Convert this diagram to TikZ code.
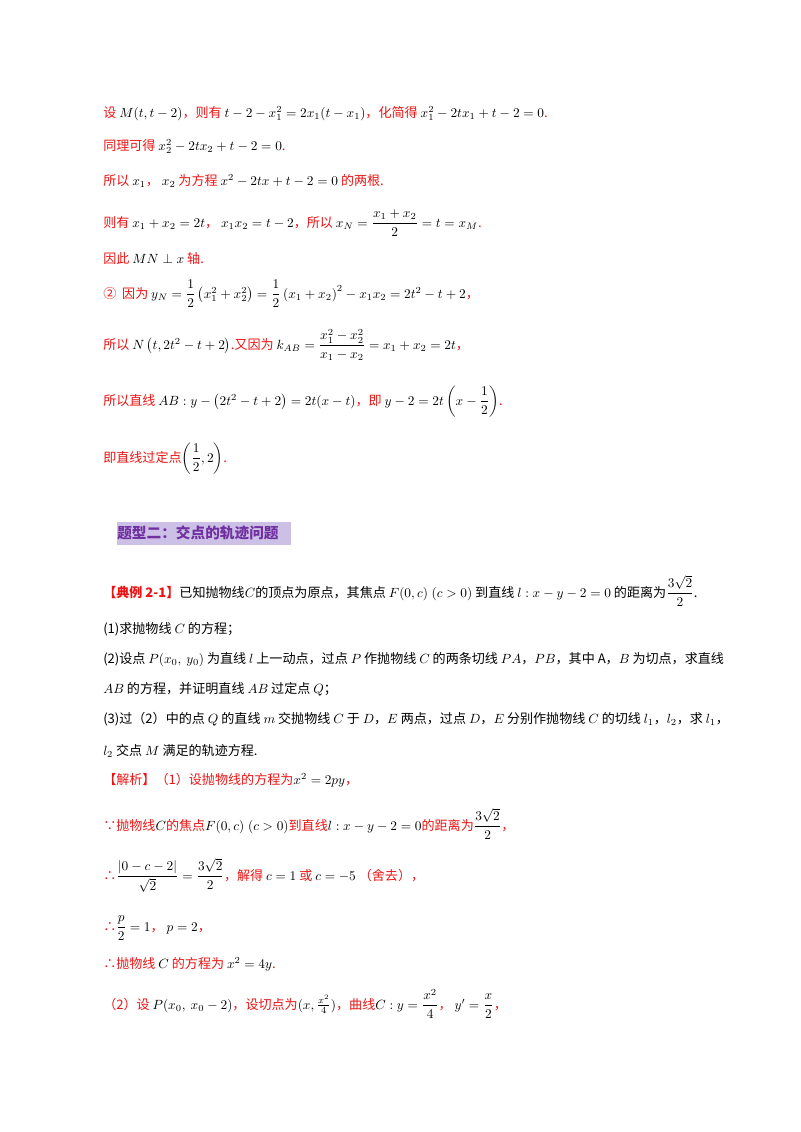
\documentclass[tikz,border=0pt]{standalone}
\usepackage{fontspec}
\usepackage{amsmath,amssymb}
\newfontfamily\cjk{Noto Sans CJK SC}
\definecolor{rd}{RGB}{235,20,20}
\definecolor{pu}{RGB}{112,48,160}
\definecolor{lav}{RGB}{204,192,230}
\newcommand{\R}[1]{\textcolor{rd}{#1}}
\tikzset{ln/.style={anchor=base west,inner sep=0pt,font=\cjk\fontsize{9.8}{11}\selectfont}}
\begin{document}
\begin{tikzpicture}[x=0.75pt,y=-0.75pt]
\useasboundingbox (0,0) rectangle (800,1132);
\node[ln] (l1) at (103,117) {\R{设} $M(t,t-2)$\R{，则有} $t-2-x_1^2=2x_1(t-x_1)$\R{，化简得} $x_1^2-2tx_1+t-2=0$\R{.}};
\node[ln] (l2) at (103,150) {\R{同理可得} $x_2^2-2tx_2+t-2=0$\R{.}};
\node[ln] (l3) at (103,185) {\R{所以} $x_1$\R{，} $x_2$ \R{为方程} $x^2-2tx+t-2=0$ \R{的两根.}};
\node[ln] (l4) at (103,227) {\R{则有} $x_1+x_2=2t$\R{，} $x_1x_2=t-2$\R{，所以} $x_N=\dfrac{x_1+x_2}{2}=t=x_M$\R{.}};
\node[ln] (l5) at (103,263) {\R{因此} $MN\perp x$ \R{轴.}};
\node[ln] (l6) at (103,298) {\R{②\ \ 因为} $y_N=\dfrac12\left(x_1^2+x_2^2\right)=\dfrac12\left(x_1+x_2\right)^2-x_1x_2=2t^2-t+2$\R{，}};
\node[ln] (l7) at (103,349) {\R{所以} $N\left(t,2t^2-t+2\right)$\R{.又因为} $k_{AB}=\dfrac{x_1^2-x_2^2}{x_1-x_2}=x_1+x_2=2t$\R{，}};
\node[ln] (l8) at (103,405) {\R{所以直线} $AB:y-\left(2t^2-t+2\right)=2t(x-t)$\R{，即} $y-2=2t\left(x-\dfrac12\right)$\R{.}};
\node[ln] (l9) at (103,462) {\R{即直线过定点}$\left(\dfrac12,2\right)$\R{.}};
\fill[lav] (117,522) rectangle (291,545);
\node[ln,font=\cjk\bfseries\fontsize{11}{12}\selectfont,text=pu] (h) at (117,538) {题型二：交点的轨迹问题};
\node[ln] (e1) at (103,597) {\textcolor{rd}{\bfseries【典例 2-1】}已知抛物线$C$的顶点为原点，其焦点 $F(0,c)\;(c>0)$ 到直线 $l:x-y-2=0$ 的距离为$\dfrac{3\sqrt2}{2}$.};
\node[ln] (e2) at (103,633) {(1)求抛物线 $C$ 的方程；};
\node[ln] (e3) at (103,663) {(2)设点 $P(x_0,\ y_0)$ 为直线 $l$ 上一动点，过点 $P$ 作抛物线 $C$ 的两条切线 $PA$，$PB$，其中 A，$B$ 为切点，求直线};
\node[ln] (e4) at (103,693) {$AB$ 的方程，并证明直线 $AB$ 过定点 $Q$；};
\node[ln] (e5) at (103,723) {(3)过（2）中的点 $Q$ 的直线 $m$ 交抛物线 $C$ 于 $D$，$E$ 两点，过点 $D$，$E$ 分别作抛物线 $C$ 的切线 $l_1$，$l_2$，求 $l_1$，};
\node[ln] (e6) at (103,755) {$l_2$ 交点 $M$ 满足的轨迹方程.};
\node[ln] (s1) at (103,784) {\R{【解析】（1）设抛物线的方程为}$x^2=2py$\R{，}};
\node[ln] (s2) at (103,830) {\R{∵抛物线}$C$\R{的焦点}$F(0,c)\;(c>0)$\R{到直线}$l:x-y-2=0$\R{的距离为}$\dfrac{3\sqrt2}{2}$\R{，}};
\node[ln] (s3) at (103,880) {\R{∴}$\dfrac{|0-c-2|}{\sqrt2}=\dfrac{3\sqrt2}{2}$\R{，解得} $c=1$ \R{或} $c=-5$ \R{（舍去），}};
\node[ln] (s4) at (103,931) {\R{∴}$\dfrac p2=1$\R{，} $p=2$\R{，}};
\node[ln] (s5) at (103,968) {\R{∴抛物线} $C$ \R{的方程为} $x^2=4y$\R{.}};
\node[ln] (s6) at (103,1009) {\R{（2）设} $P(x_0,\ x_0-2)$\R{，设切点为}$(x,\frac{x^2}{4})$\R{，曲线}$C:y=\dfrac{x^2}{4}$\R{，} $y'=\dfrac x2$\R{，}};
\end{tikzpicture}
\end{document}
